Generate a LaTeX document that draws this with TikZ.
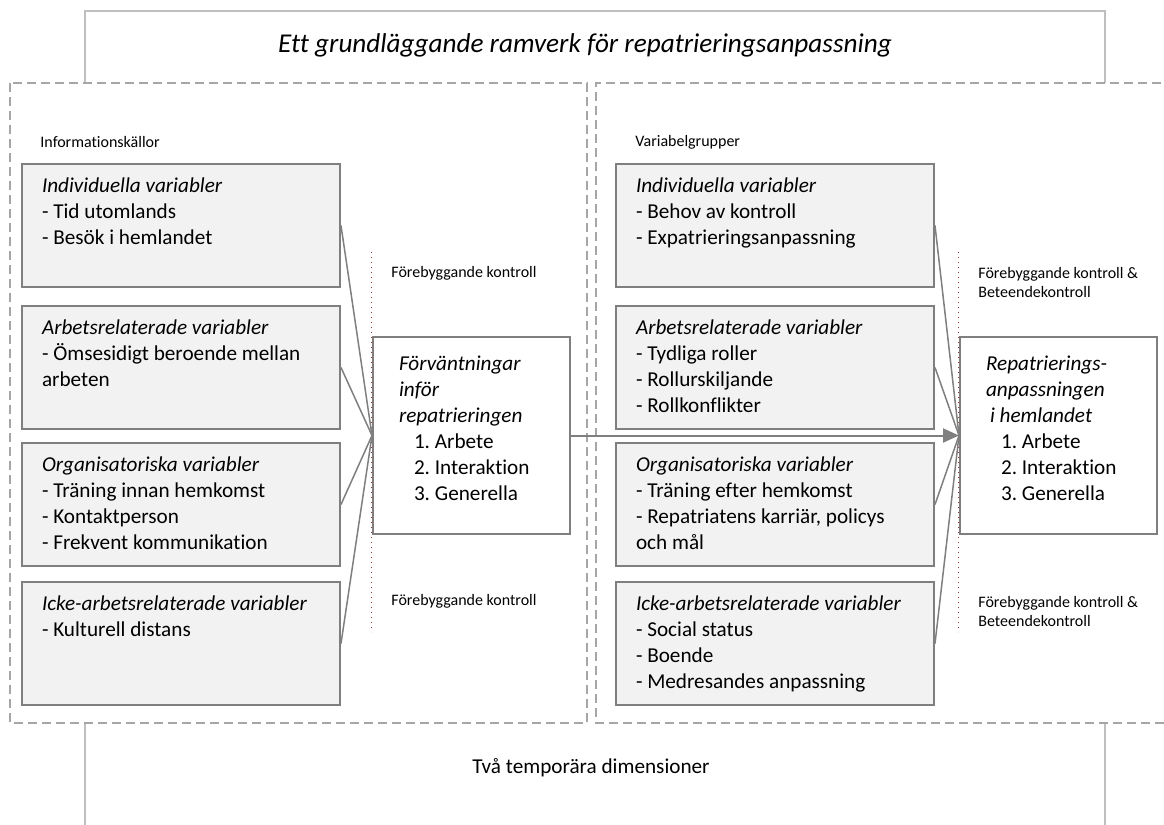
\documentclass[tikz,border=0pt]{standalone}
\usepackage{fontspec}
\setmainfont{Carlito}[Ligatures={NoCommon}]
\usepackage{tikz}
\usetikzlibrary{
    arrows.meta,
    positioning
}
\definecolor{boxfill}{HTML}{F2F2F2}
\definecolor{edgegray}{HTML}{7F7F7F}
\definecolor{framegray}{HTML}{A6A6A6}
\definecolor{titlegray}{HTML}{BFBFBF}
\definecolor{ctrlred}{HTML}{943634}
\frenchspacing

\begin{document}
\begin{tikzpicture}[
x=0.5pt, y=-0.5pt,
varbox/.style={
draw=edgegray,
line width=1pt,
fill=boxfill,
anchor=north west,
inner xsep=10pt,
inner ysep=0pt,
text width=139pt,
text height=14pt,
text depth=47.5pt,
align=flush left,
font=\fontsize{10.6}{13}\selectfont
},
resultbox/.style={
draw=edgegray,
line width=1pt,
fill=white,
anchor=north west,
inner xsep=13pt,
inner ysep=0pt,
text width=72.5pt,
text height=16.5pt,
text depth=82pt,
align=flush left,
font=\fontsize{10.6}{13}\selectfont
},
link/.style={draw=edgegray, line width=0.75pt},
flow/.style={draw=edgegray, line width=1pt,
-{Triangle[length=8pt, width=7pt]}},
ctrlline/.style={draw=ctrlred, line width=0.5pt, dotted},
ctrllabel/.style={anchor=west, inner sep=0pt, align=flush left,
font=\fontsize{8}{9.5}\selectfont},
heading/.style={anchor=west, inner sep=0pt,
font=\fontsize{8}{9.5}\selectfont},
frameline/.style={draw=framegray, line width=0.75pt,
dash pattern=on 4.5pt off 2.5pt},
titleline/.style={draw=titlegray, line width=0.75pt}
]
\useasboundingbox (0,0) rectangle (1164,825);

% outer frames
\draw[titleline] (85,83) -- (85,11) -- (1105,11) -- (1105,83);
\draw[titleline] (85,723) -- (85,830);
\draw[titleline] (1105,723) -- (1105,830);
\draw[frameline] (10,83) rectangle (587,723);
\draw[frameline] (1175,83) -- (596,83) -- (596,723) -- (1175,723);

\node[font=\fontsize{13.6}{16}\selectfont\itshape] (title) at (585,45)
{Ett grundläggande ramverk för repatrieringsanpassning};

\node[font=\fontsize{10.6}{13}\selectfont] (dims) at (591,768)
{Två temporära dimensioner};

\node[heading] (srchead) at (40,142) {Informationskällor};
\node[heading] (grphead) at (635,142) {Variabelgrupper};

% left column
\node[varbox] (indL) at (21,163)
{\textit{Individuella variabler}\\- Tid utomlands\\- Besök i hemlandet};

\node[varbox] (workL) at (21,305)
{\textit{Arbetsrelaterade variabler}\\- Ömsesidigt beroende mellan\\arbeten};

\node[varbox] (orgL) at (21,442)
{\textit{Organisatoriska variabler}\\- Träning innan hemkomst\\- Kontaktperson\\- Frekvent kommunikation};

\node[varbox] (nonL) at (21,581)
{\textit{Icke-arbetsrelaterade variabler}\\- Kulturell distans};

\node[resultbox] (expect) at (372,336)
{\textit{Förväntningar}\\\textit{inför}\\\textit{repatrieringen}\\
\hspace*{7.5pt}1. Arbete\\\hspace*{7.5pt}2. Interaktion\\\hspace*{7.5pt}3. Generella};

% right column
\node[varbox] (indR) at (615,163)
{\textit{Individuella variabler}\\- Behov av kontroll\\- Expatrieringsanpassning};

\node[varbox] (workR) at (615,305)
{\textit{Arbetsrelaterade variabler}\\- Tydliga roller\\- Rollurskiljande\\- Rollkonflikter};

\node[varbox] (orgR) at (615,442)
{\textit{Organisatoriska variabler}\\- Träning efter hemkomst\\- Repatriatens karriär, policys\\och mål};

\node[varbox] (nonR) at (615,581)
{\textit{Icke-arbetsrelaterade variabler}\\- Social status\\- Boende\\- Medresandes anpassning};

\node[resultbox] (adjust) at (959,336)
{\textit{Repatrierings-}\\\textit{anpassningen}\\\hspace*{2pt}\textit{i hemlandet}\\
\hspace*{7.5pt}1. Arbete\\\hspace*{7.5pt}2. Interaktion\\\hspace*{7.5pt}3. Generella};

% control lines and labels
\draw[ctrlline] ([xshift=-0.5pt,yshift=42pt]expect.north west)
-- ([xshift=-0.5pt,yshift=-48.5pt]expect.south west);
\draw[ctrlline] ([xshift=-0.5pt,yshift=42pt]adjust.north west)
-- ([xshift=-0.5pt,yshift=-48.5pt]adjust.south west);

\node[ctrllabel] (prevL1) at (391,273) {Förebyggande kontroll};
\node[ctrllabel] (prevL2) at (391,601) {Förebyggande kontroll};
\node[ctrllabel] (prevR1) at (978,282.5) {Förebyggande kontroll \&\\Beteendekontroll};
\node[ctrllabel] (prevR2) at (978,611) {Förebyggande kontroll \&\\Beteendekontroll};

% connectors
\draw[link] (indL.east) -- (expect.west);
\draw[link] (workL.east) -- (expect.west);
\draw[link] (orgL.east) -- (expect.west);
\draw[link] (nonL.east) -- (expect.west);

\draw[link] (indR.east) -- (adjust.west);
\draw[link] (workR.east) -- (adjust.west);
\draw[link] (orgR.east) -- (adjust.west);
\draw[link] (nonR.east) -- (adjust.west);

\draw[flow] (expect.east) -- (adjust.west);

\end{tikzpicture}
\end{document}
